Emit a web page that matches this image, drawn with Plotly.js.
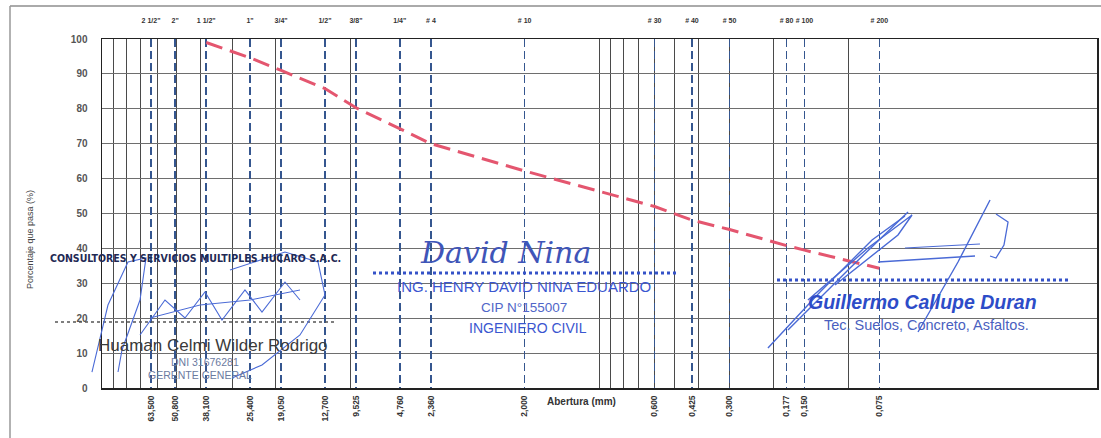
<!DOCTYPE html>
<html>
<head>
<meta charset="utf-8">
<script src="https://cdn.plot.ly/plotly-3.0.1.min.js"></script>
<style>
html,body{margin:0;padding:0;background:#fff;}
#chart{width:1101px;height:438px;}
</style>
</head>
<body>
<div id="chart"></div>
<script>
// ---- data ----
const sieveNames  = ['2 1/2"', '2"', '1 1/2"', '1"', '3/4"', '1/2"', '3/8"', '1/4"', '# 4', '# 10', '# 30', '# 40', '# 50', '# 80', '# 100', '# 200'];
const sieveSizes  = [63.5, 50.8, 38.1, 25.4, 19.05, 12.7, 9.525, 6.35, 4.76, 2.0, 0.6, 0.425, 0.3, 0.177, 0.15, 0.075];
const sieveLabels = ['63,500', '50,800', '38,100', '25,400', '19,050', '12,700', '9,525', '4,760', '2,360', '2,000', '0,600', '0,425', '0,300', '0,177', '0,150', '0,075'];
const gridSizes   = [90, 80, 70, 60, 50, 40, 30, 20, 10, 1, 0.9, 0.8, 0.7, 0.6, 0.5, 0.4, 0.3, 0.2, 0.1];
const testSizes   = [38.1, 25.4, 19.05, 12.7, 9.525, 6.35, 4.76, 2.0, 0.6, 0.425, 0.3, 0.177, 0.15, 0.075];
const passing     = [99.0, 94.6, 91.0, 85.8, 80.3, 74.2, 70.0, 62.2, 52.0, 48.1, 45.4, 40.8, 39.5, 34.3];
const pctTicks    = [0, 10, 20, 30, 40, 50, 60, 70, 80, 90, 100];

// ---- page geometry helpers (decoration only) ----
const L = 102, R = 1097, T = 39, B = 388;
const px = x => (x - L) / (R - L);
const py = y => (B - y) / (B - T);
function path(pts) {
  return pts.map((p, i) => (i ? 'L' : 'M') + px(p[0]).toFixed(4) + ',' + py(p[1]).toFixed(4)).join(' ');
}

const traces = [
  {x: testSizes, y: passing, xaxis: 'x', yaxis: 'y', mode: 'lines',
   line: {color: '#e4566f', width: 3, dash: '17px,8px'}, hoverinfo: 'x+y'},
  {x: sieveSizes, y: sieveSizes.map(() => 50), xaxis: 'x2', yaxis: 'y', mode: 'markers',
   marker: {opacity: 0}, hoverinfo: 'skip'},
  {x: sieveSizes, y: sieveSizes.map(() => 50), xaxis: 'x3', yaxis: 'y', mode: 'markers',
   marker: {opacity: 0}, hoverinfo: 'skip'}
];

const blue = '#3552c8';
const sig = '#4a6ad6';
const shapes = [
  // page frame
  {type: 'line', xref: 'paper', yref: 'paper', x0: px(10), x1: px(1101), y0: py(6), y1: py(6), line: {color: '#aaa', width: 2}},
  {type: 'line', xref: 'paper', yref: 'paper', x0: px(10), x1: px(10), y0: py(6), y1: py(438), line: {color: '#999', width: 1.5}},
  // dotted signature lines
  {type: 'line', xref: 'paper', yref: 'paper', x0: px(55), x1: px(335), y0: py(322), y1: py(322), line: {color: '#555', width: 1.5, dash: 'dot'}},
  {type: 'line', xref: 'paper', yref: 'paper', x0: px(373), x1: px(677), y0: py(273), y1: py(273), line: {color: blue, width: 3, dash: 'dot'}},
  {type: 'line', xref: 'paper', yref: 'paper', x0: px(777), x1: px(1070), y0: py(280), y1: py(280), line: {color: blue, width: 3, dash: 'dot'}},
  // Huaman signature strokes
  {type: 'path', xref: 'paper', yref: 'paper', path: path([[92,372],[108,305],[128,262],[146,258],[140,300],[122,350],[118,372]]), line: {color: sig, width: 1.1}},
  {type: 'path', xref: 'paper', yref: 'paper', path: path([[140,335],[165,300],[185,318],[205,292],[222,320],[245,290],[262,312],[285,282],[300,300]]), line: {color: sig, width: 1.1}},
  {type: 'path', xref: 'paper', yref: 'paper', path: path([[230,270],[285,252],[318,262],[325,295],[300,335],[262,365],[232,378]]), line: {color: sig, width: 1.1}},
  {type: 'path', xref: 'paper', yref: 'paper', path: path([[150,318],[200,305],[250,300],[300,290]]), line: {color: sig, width: 1}},
  // Guillermo signature strokes
  {type: 'path', xref: 'paper', yref: 'paper', path: path([[768,348],[820,292],[872,240],[905,216]]), line: {color: sig, width: 1.4}},
  {type: 'path', xref: 'paper', yref: 'paper', path: path([[788,330],[850,268],[908,212]]), line: {color: sig, width: 1.4}},
  {type: 'path', xref: 'paper', yref: 'paper', path: path([[808,300],[868,248],[912,215],[898,235],[835,285]]), line: {color: sig, width: 1.4}},
  {type: 'path', xref: 'paper', yref: 'paper', path: path([[878,262],[975,256]]), line: {color: sig, width: 1.4}},
  {type: 'path', xref: 'paper', yref: 'paper', path: path([[905,248],[980,244]]), line: {color: sig, width: 1.2}},
  {type: 'path', xref: 'paper', yref: 'paper', path: path([[918,332],[958,262],[990,200]]), line: {color: sig, width: 1.4}},
  {type: 'path', xref: 'paper', yref: 'paper', path: path([[996,214],[1008,222],[1004,245],[996,258],[990,256]]), line: {color: sig, width: 1.3}}
];

function ann(text, x, y, font, extra) {
  return Object.assign({text: text, xref: 'paper', yref: 'paper', x: px(x), y: py(y),
    xanchor: 'center', yanchor: 'middle', showarrow: false, font: font}, extra || {});
}

const annotations = [
  ann('Porcentaje que pasa (%)', 30, 240, {size: 9, color: '#444', family: 'Liberation Sans, Arial, sans-serif'}, {textangle: -90}),
  ann('Abertura (mm)', 581, 401, {size: 10, color: '#333', family: 'Liberation Sans, Arial, sans-serif', weight: 'bold'}),
  ann('CONSULTORES Y SERVICIOS MULTIPLES HUCARO S.A.C.', 195, 258, {size: 10.5, color: '#1f2a55', family: 'Liberation Sans Narrow, DejaVu Sans Condensed, sans-serif', weight: 'bold'}),
  ann('Huaman Celmi Wilder Rodrigo', 213, 345, {size: 17, color: '#3a3a3a', family: 'Liberation Sans, Arial, sans-serif'}),
  ann('DNI 31676281', 205, 362, {size: 10.5, color: '#6b7aa0', family: 'Liberation Sans, Arial, sans-serif'}),
  ann('GERENTE GENERAL', 200, 375, {size: 10.5, color: '#6b7aa0', family: 'Liberation Sans, Arial, sans-serif'}),
  ann('David Nina', 505, 252, {size: 30, color: '#3f55b8', family: 'DejaVu Serif, serif', style: 'italic'}),
  ann('ING. HENRY DAVID NINA EDUARDO', 524, 286, {size: 15, color: '#3a56d0', family: 'Liberation Sans, Arial, sans-serif'}),
  ann('CIP N°155007', 524, 307, {size: 13.5, color: '#5066c8', family: 'Liberation Sans, Arial, sans-serif'}),
  ann('INGENIERO CIVIL', 528, 328, {size: 14, color: '#3a56d0', family: 'Liberation Sans, Arial, sans-serif'}),
  ann('Guillermo Callupe Duran', 922, 302, {size: 19.5, color: '#2d4cc8', family: 'Liberation Sans, Arial, sans-serif', weight: 'bold', style: 'italic'}),
  ann('Tec. Suelos, Concreto, Asfaltos.', 926, 325, {size: 14.5, color: '#4a5fc0', family: 'Liberation Sans, Arial, sans-serif'})
];

const axFont = 'Liberation Sans, Arial, sans-serif';
const layout = {
  width: 1101, height: 438,
  margin: {l: L, r: 1101 - R, t: T, b: 438 - B},
  paper_bgcolor: '#ffffff', plot_bgcolor: '#ffffff',
  showlegend: false,
  font: {family: axFont, color: '#444'},
  xaxis: {
    type: 'log', range: [2, -2], tickvals: gridSizes, showticklabels: false, ticks: '',
    showgrid: true, gridcolor: '#4a4a4a', gridwidth: 1, zeroline: false,
    showline: true, mirror: true, linecolor: '#222', linewidth: 1.5
  },
  xaxis2: {
    type: 'log', range: [2, -2], overlaying: 'x', side: 'top', anchor: 'y',
    tickvals: sieveSizes, ticktext: sieveNames,
    showgrid: true, griddash: '8px,4px', gridcolor: '#35568f', gridwidth: 1.6,
    ticks: 'outside', ticklen: 12, tickcolor: 'rgba(0,0,0,0)',
    tickfont: {size: 7, color: '#333', family: axFont, weight: 'bold'},
    showline: false, zeroline: false
  },
  xaxis3: {
    type: 'log', range: [2, -2], overlaying: 'x', side: 'bottom', anchor: 'y',
    tickvals: sieveSizes, ticktext: sieveLabels, tickangle: -90,
    showgrid: false, ticks: 'outside', ticklen: 3, tickcolor: 'rgba(0,0,0,0)',
    tickfont: {size: 8.5, color: '#333', family: axFont, weight: 'bold'},
    showline: false, zeroline: false
  },
  yaxis: {
    range: [0, 100], tickvals: pctTicks, showgrid: true, gridcolor: '#6e6e6e', gridwidth: 1,
    ticks: 'outside', ticklen: 11, tickcolor: 'rgba(0,0,0,0)',
    tickfont: {size: 10, color: '#555', family: axFont, weight: 'bold'},
    zeroline: false, showline: true, mirror: true, linecolor: '#222', linewidth: 1.5
  },
  shapes: shapes,
  annotations: annotations
};

Plotly.newPlot('chart', traces, layout, {displayModeBar: false, staticPlot: true});
</script>
</body>
</html>
